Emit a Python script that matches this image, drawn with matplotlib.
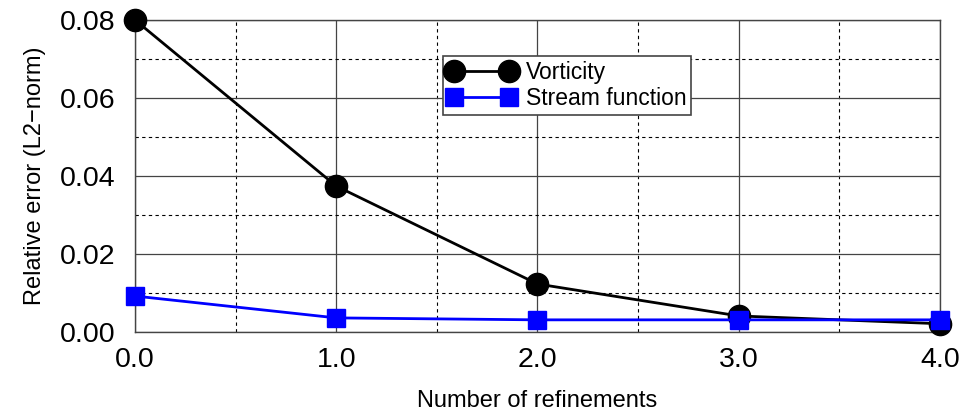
import matplotlib.pyplot as plt
from matplotlib.ticker import MultipleLocator

plt.rcParams['font.family'] = ['Liberation Sans', 'DejaVu Sans']

refinements = [0, 1, 2, 3, 4]
vorticity = [0.0800, 0.0374, 0.0123, 0.0041, 0.0021]
stream_function = [0.0092, 0.0036, 0.0031, 0.0031, 0.0031]

fig = plt.figure(figsize=(9.66, 4.17), dpi=100)
ax = fig.add_axes([0.1398, 0.204, 0.8332, 0.748])

ax.plot(refinements, vorticity, color='black', lw=2, marker='o', ms=16,
        label='Vorticity', clip_on=False, zorder=3)
ax.plot(refinements, stream_function, color='blue', lw=2, marker='s', ms=13,
        label='Stream function', clip_on=False, zorder=4)

ax.set_xlim(0, 4)
ax.set_ylim(0, 0.08)
ax.xaxis.set_major_locator(MultipleLocator(1))
ax.xaxis.set_minor_locator(MultipleLocator(0.5))
ax.yaxis.set_major_locator(MultipleLocator(0.02))
ax.yaxis.set_minor_locator(MultipleLocator(0.01))
ax.xaxis.set_major_formatter('{x:.1f}')
ax.yaxis.set_major_formatter('{x:.2f}')
ax.grid(which='major', color='#444444', lw=0.9, ls='-')
ax.grid(which='minor', color='black', lw=0.8, ls=(0, (3, 3)))
ax.set_axisbelow(True)
ax.tick_params(which='both', length=0, labelsize=20.5)
ax.tick_params(axis='y', pad=14)
ax.tick_params(axis='x', pad=11)
for s in ax.spines.values():
    s.set_color('#444444')
    s.set_linewidth(1)

ax.set_xlabel('Number of refinements', fontsize=17, labelpad=12)
ax.set_ylabel('Relative error (L2\u2212norm)', fontsize=17, labelpad=10)

leg = ax.legend(loc='upper left', bbox_to_anchor=(443 / 966, 1 - 56 / 417),
                bbox_transform=fig.transFigure, fontsize=16.5, fancybox=False,
                framealpha=1, edgecolor='#444444', borderpad=0.2,
                numpoints=2, handlelength=3.0, handletextpad=0.4,
                labelspacing=0.15, borderaxespad=0)
leg.get_frame().set_linewidth(1.2)

fig.savefig('out.png', dpi=100)
